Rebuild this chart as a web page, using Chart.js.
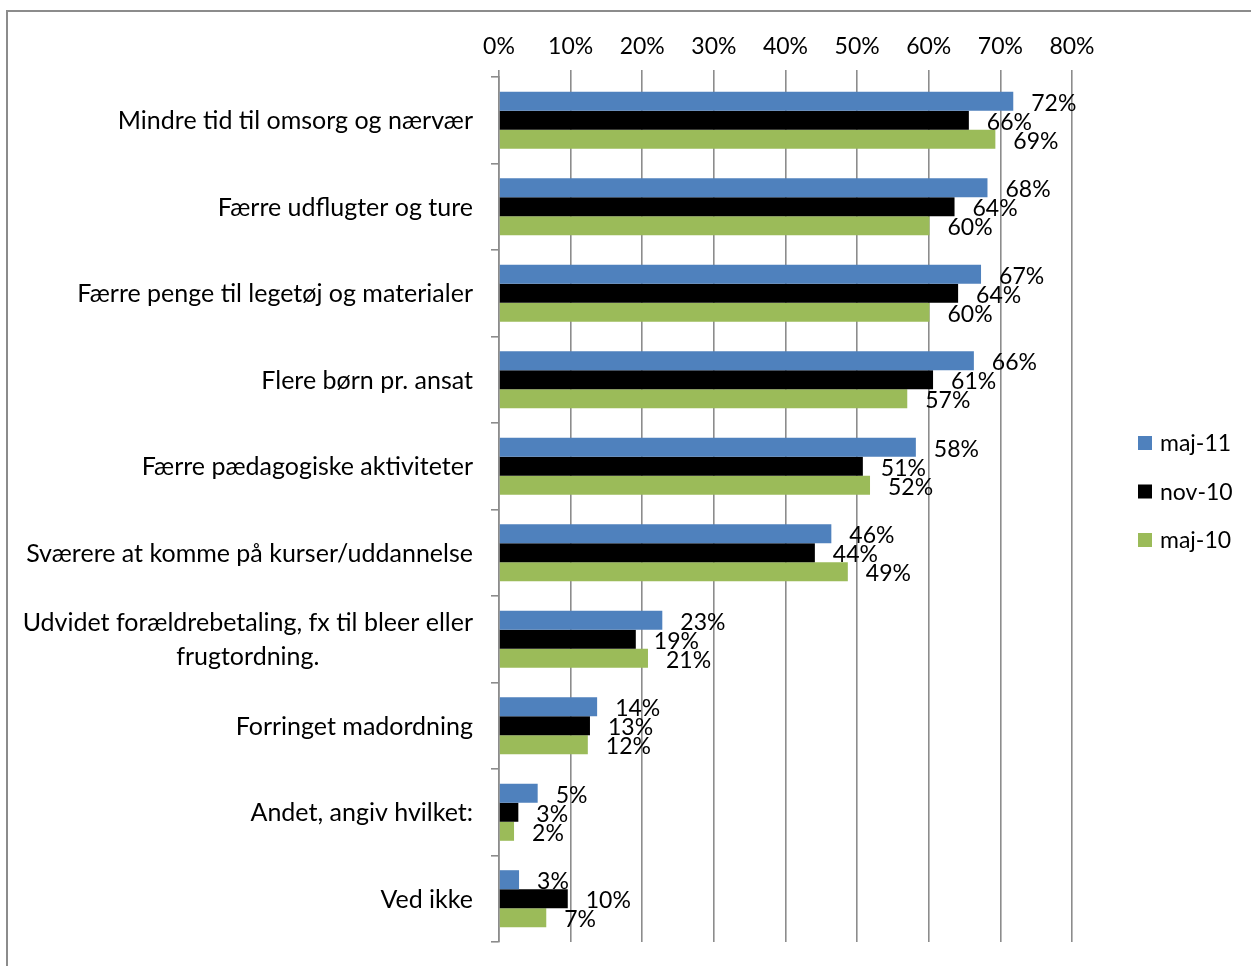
<!DOCTYPE html>
<html>
<head>
<meta charset="utf-8">
<script src="https://cdn.jsdelivr.net/npm/chart.js@4/dist/chart.umd.min.js"></script>
<style>
    body { margin: 0; background: #fff; }
    #divFrame {
        position: absolute; left: 6px; top: 10px; width: 1245px; height: 956px;
        border-left: 2px solid #8c8c8c; border-top: 2px solid #8c8c8c;
    }
    #divChart { position: absolute; left: 0; top: 0; width: 1251px; height: 966px; }
</style>
</head>
<body>
<div id="divFrame"></div>
<div id="divChart"><canvas id="cnvChart" width="1251" height="966"></canvas></div>
<script>
/**
 * DATA
 */
const categories = [
    'Mindre tid til omsorg og nærvær',
    'Færre udflugter og ture',
    'Færre penge til legetøj og materialer',
    'Flere børn pr. ansat',
    'Færre pædagogiske aktiviteter',
    'Sværere at komme på kurser/uddannelse',
    ['Udvidet forældrebetaling, fx til bleer eller', 'frugtordning.'],
    'Forringet madordning',
    'Andet, angiv hvilket:',
    'Ved ikke'
];
const seriesNames = ['maj-11', 'nov-10', 'maj-10'];
const seriesColors = ['#4f81bd', '#000000', '#9bbb59'];
const maj11 = [71.8, 68.2, 67.3, 66.3, 58.2, 46.4, 22.8, 13.7, 5.4, 2.8];
const nov10 = [65.6, 63.6, 64.1, 60.6, 50.8, 44.1, 19.1, 12.7, 2.7, 9.6];
const maj10 = [69.3, 60.1, 60.1, 57.0, 51.8, 48.7, 20.8, 12.4, 2.1, 6.6];
const xMax = 80;
const xStep = 10;

const FONT = 'Lato, "Open Sans", sans-serif';
const FONT_SIZE = 23;
const CAT_FONT_SIZE = 25;
const GRID = '#8c8c8c';

/**
 * draws the category labels (centered lines, right aligned block)
 */
const categoryLabelPlugin = {
    id: 'categoryLabels',
    afterDraw(chart) {
        let ctx = chart.ctx;
        let yScale = chart.scales.y;
        let right = chart.chartArea.left - 26;
        ctx.save();
        ctx.font = `${CAT_FONT_SIZE}px ${FONT}`;
        ctx.fillStyle = '#000';
        ctx.textBaseline = 'middle';
        ctx.textAlign = 'center';
        categories.forEach((cat, i) => {
            let lines = Array.isArray(cat) ? cat : [cat];
            let width = Math.max(...lines.map(l => ctx.measureText(l).width));
            let center = right - width / 2;
            let lineHeight = 34;
            let y0 = yScale.getPixelForValue(i) + 1 - (lines.length - 1) * lineHeight / 2;
            lines.forEach((line, j) => {
                ctx.fillText(line, center, y0 + j * lineHeight);
            });
        });
        ctx.restore();
    }
};

/**
 * value labels right of every bar
 */
const valueLabelPlugin = {
    id: 'valueLabels',
    afterDatasetsDraw(chart) {
        let ctx = chart.ctx;
        ctx.save();
        ctx.font = `${FONT_SIZE}px ${FONT}`;
        ctx.fillStyle = '#000';
        ctx.textBaseline = 'middle';
        ctx.textAlign = 'left';
        chart.data.datasets.forEach((ds, d) => {
            let meta = chart.getDatasetMeta(d);
            meta.data.forEach((bar, i) => {
                ctx.fillText(Math.round(ds.data[i]) + '%', bar.x + 18, bar.y + 2);
            });
        });
        ctx.restore();
    }
};

/**
 * legend on the right side
 */
const legendPlugin = {
    id: 'sideLegend',
    afterDraw(chart) {
        let ctx = chart.ctx;
        ctx.save();
        ctx.font = `${FONT_SIZE}px ${FONT}`;
        ctx.textBaseline = 'middle';
        ctx.textAlign = 'left';
        seriesNames.forEach((name, i) => {
            let y = 443 + i * 48.5;
            ctx.fillStyle = seriesColors[i];
            ctx.fillRect(1138, y - 7, 14, 14);
            ctx.fillStyle = '#000';
            ctx.fillText(name, 1160, y + 1);
        });
        ctx.restore();
    }
};

function CreateChart() {
    let canvas = document.querySelector('#cnvChart');
    let seriesData = [maj11, nov10, maj10];
    new Chart(canvas, {
        type: 'bar',
        data: {
            labels: categories,
            datasets: seriesNames.map((name, i) => ({
                label: name,
                data: seriesData[i],
                backgroundColor: seriesColors[i],
                borderWidth: 0,
                categoryPercentage: 0.66,
                barPercentage: 1
            }))
        },
        options: {
            indexAxis: 'y',
            responsive: false,
            animation: false,
            layout: { padding: { left: 0, right: 179, top: 0, bottom: 24 } },
            plugins: {
                legend: { display: false },
                tooltip: { enabled: false }
            },
            scales: {
                x: {
                    position: 'top',
                    min: 0,
                    max: xMax,
                    ticks: {
                        stepSize: xStep,
                        padding: 10,
                        color: '#000',
                        font: { family: FONT, size: FONT_SIZE },
                        callback: v => v + '%'
                    },
                    grid: { color: GRID, lineWidth: 1.6, tickLength: 7 },
                    border: { display: false },
                    afterFit(scale) { scale.height = 77; }
                },
                y: {
                    ticks: { display: false },
                    grid: { color: GRID, lineWidth: 1.6, drawOnChartArea: false, tickLength: 8, offset: true },
                    border: { display: true, color: GRID, width: 1.6 },
                    afterFit(scale) { scale.width = 499; }
                }
            }
        },
        plugins: [categoryLabelPlugin, valueLabelPlugin, legendPlugin]
    });
}

CreateChart();
</script>
</body>
</html>
